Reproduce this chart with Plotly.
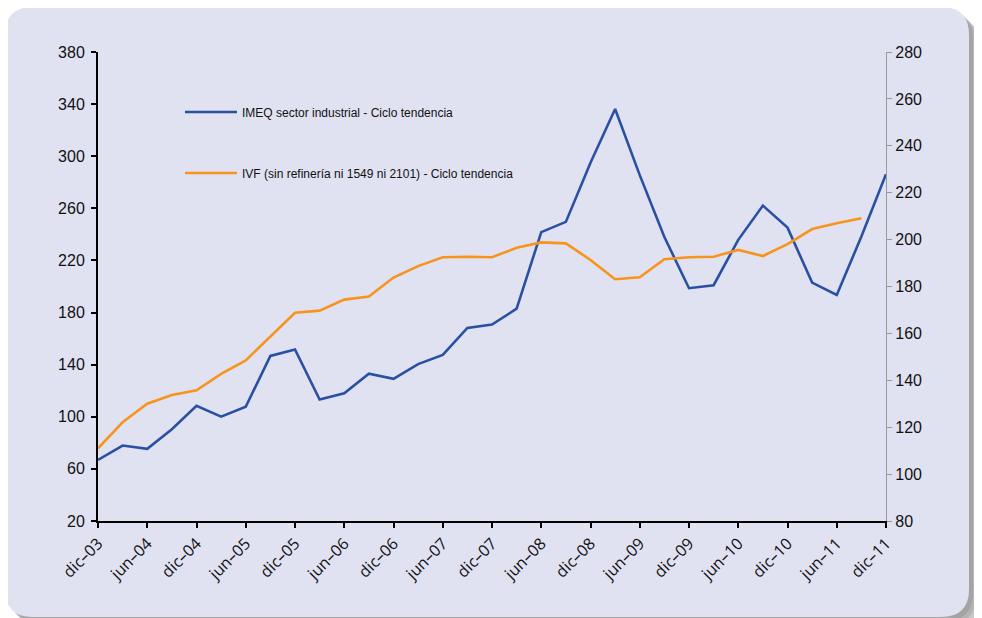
import plotly.graph_objects as go

# ---- data ----
quarters = ["dic-03", "mar-04", "jun-04", "sep-04", "dic-04", "mar-05", "jun-05", "sep-05",
            "dic-05", "mar-06", "jun-06", "sep-06", "dic-06", "mar-07", "jun-07", "sep-07",
            "dic-07", "mar-08", "jun-08", "sep-08", "dic-08", "mar-09", "jun-09", "sep-09",
            "dic-09", "mar-10", "jun-10", "sep-10", "dic-10", "mar-11", "jun-11", "sep-11",
            "dic-11"]
imeq = [66.9, 77.9, 75.4, 90.5, 108.4, 100.1, 107.7, 146.7, 151.6, 113.2, 118.1, 133.1,
        129.1, 140.4, 147.5, 168.2, 170.8, 183.0, 241.7, 249.6, 295.0, 336.3, 285.5, 238.0,
        198.7, 201.0, 235.8, 262.1, 245.2, 203.0, 193.5, 238.3, 286.2]
ivf = [111.0, 122.1, 130.0, 133.7, 135.7, 142.7, 148.5, 158.6, 168.8, 169.7, 174.4, 175.7,
       183.8, 188.7, 192.5, 192.7, 192.5, 196.5, 198.8, 198.4, 191.3, 183.1, 183.9, 191.6,
       192.5, 192.7, 195.6, 193.0, 198.1, 204.5, 207.0, 209.1]
tick_quarters = quarters[::2]
tick_labels = [q.replace("-", "\u2013") for q in tick_quarters]
left_ticks = [20, 60, 100, 140, 180, 220, 260, 300, 340, 380]
right_ticks = [80, 100, 120, 140, 160, 180, 200, 220, 240, 260, 280]
name_imeq = "IMEQ sector industrial - Ciclo tendencia"
name_ivf = "IVF (sin refinería ni 1549 ni 2101) - Ciclo tendencia"

# ---- layout geometry (screen pixels; page has an 8px body offset) ----
OFF = 8
W, H = 982, 618
L, R, T, B = 98, 886, 52, 521


def px(x):
    return (x - L) / (R - L)


def py(y):
    return (B - y) / (B - T)


def rrect(x0, y0, x1, y1, r):
    P = lambda x, y: f"{px(x):.5f},{py(y):.5f}"
    return (f"M{P(x0 + r, y0)} L{P(x1 - r, y0)} Q{P(x1, y0)} {P(x1, y0 + r)} "
            f"L{P(x1, y1 - r)} Q{P(x1, y1)} {P(x1 - r, y1)} L{P(x0 + r, y1)} "
            f"Q{P(x0, y1)} {P(x0, y1 - r)} L{P(x0, y0 + r)} Q{P(x0, y0)} {P(x0 + r, y0)} Z")


shapes = []
for d, op in [(16, 0.12), (13, 0.18), (10, 0.25), (7, 0.32), (4, 0.40)]:
    shapes.append(dict(type="path", xref="paper", yref="paper", layer="below",
                       path=rrect(5 + d, 7 + d, 969 + d, 617 + d, 28),
                       fillcolor=f"rgba(140,140,140,{op})", line=dict(width=0)))
shapes.append(dict(type="path", xref="paper", yref="paper", layer="below",
                   path=rrect(5, 7, 969, 617, 28),
                   fillcolor="#e0e2f1", line=dict(width=0)))

fig = go.Figure()
fig.add_trace(go.Scatter(x=quarters, y=imeq, mode="lines", name=name_imeq,
                         line=dict(color="#2a50a2", width=2.6), legend="legend",
                         showlegend=True))
fig.add_trace(go.Scatter(x=quarters[:len(ivf)], y=ivf, mode="lines", name=name_ivf,
                         line=dict(color="#f7941e", width=2.6), yaxis="y2", legend="legend2",
                         showlegend=True))

tick_font = dict(family="Liberation Sans, Arial, sans-serif", size=16, color="#111")
leg_font = dict(family="Liberation Sans, Arial, sans-serif", size=12, color="#111")

fig.update_layout(
    width=W, height=H,
    margin=dict(l=L - OFF, r=W - R + OFF, t=T - OFF, b=H - B + OFF, pad=0),
    paper_bgcolor="white",
    plot_bgcolor="rgba(0,0,0,0)",
    showlegend=True,
    shapes=shapes,
    xaxis=dict(type="category", categoryorder="array", categoryarray=quarters,
               range=[0, len(quarters) - 1],
               tickvals=tick_quarters, ticktext=tick_labels, tickangle=-45,
               tickfont=dict(family="Open Sans, Noto Sans, sans-serif", size=16, color="#111"),
               showline=True, linecolor="black", linewidth=2,
               ticks="outside", ticklen=5, tickwidth=2, tickcolor="black",
               showgrid=False, zeroline=False),
    yaxis=dict(range=[20, 380], tickvals=left_ticks, tickfont=tick_font,
               showline=True, linecolor="black", linewidth=2,
               ticks="outside", ticklen=5, tickwidth=2, tickcolor="black",
               ticklabelstandoff=3,
               showgrid=False, zeroline=False),
    yaxis2=dict(range=[80, 280], tickvals=right_ticks, tickfont=tick_font,
                overlaying="y", side="right",
                showline=True, linecolor="#999", linewidth=1.2,
                ticks="outside", ticklen=5, tickwidth=1.2, tickcolor="#999",
                showgrid=False, zeroline=False),
    legend=dict(x=px(180), y=py(112), xanchor="left", yanchor="middle",
                bgcolor="rgba(0,0,0,0)", font=leg_font, itemwidth=52),
    legend2=dict(x=px(180), y=py(173), xanchor="left", yanchor="middle",
                 bgcolor="rgba(0,0,0,0)", font=leg_font, itemwidth=52),
)

fig.write_html("out.html")
